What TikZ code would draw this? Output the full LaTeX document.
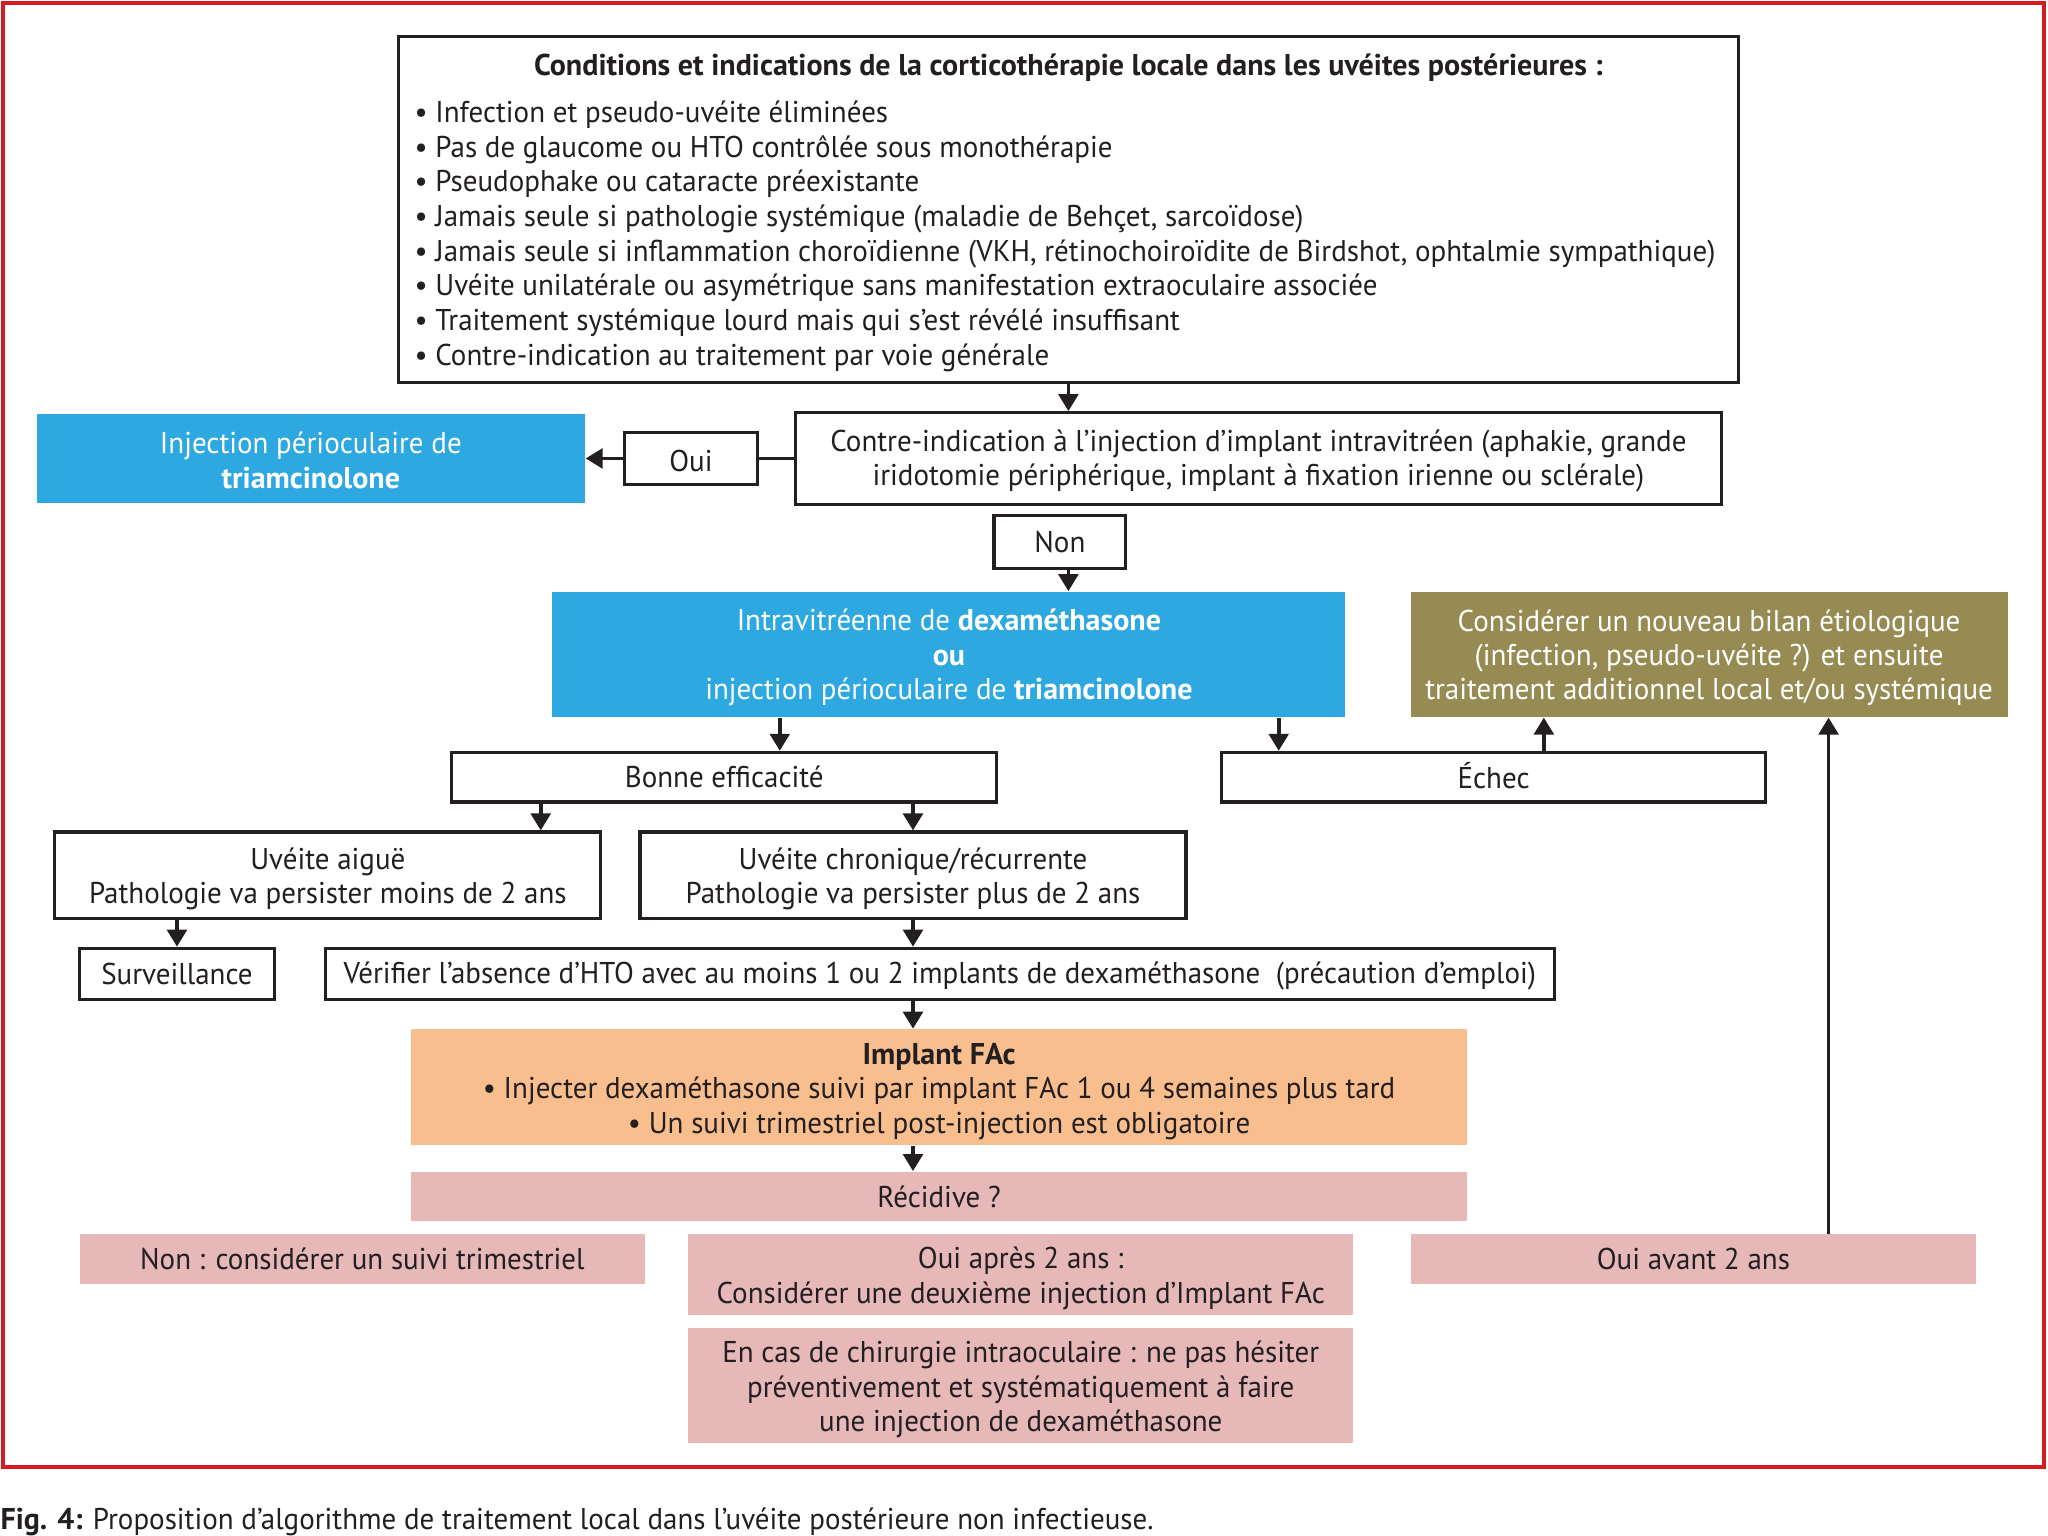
\documentclass[tikz,border=0pt]{standalone}
\usepackage{fontspec}
\setmainfont{PT Sans}[FakeStretch=0.965, BoldFeatures={FakeStretch=1.0}]
\usetikzlibrary{arrows.meta}
\definecolor{txt}{HTML}{231F20}
\definecolor{cblue}{HTML}{2DA8E0}
\definecolor{colive}{HTML}{968B52}
\definecolor{corange}{HTML}{F9BE8E}
\definecolor{cpink}{HTML}{E6B8B8}
\definecolor{cred}{HTML}{D71A21}
% name, x1, y1, x2, y2, box style, label options, label text
\newcommand\mybox[8]{%
  \node[#6, minimum width={(#4-#2)*0.5pt}, minimum height={(#5-#3)*0.5pt}] (#1) at ({(#2+#4)/2},{(#3+#5)/2}) {};
  \node[lbl, #7] (#1-t) at (#1.center) {#8};}
\begin{document}
\begin{tikzpicture}[x=0.5pt,y=-0.5pt, font=\fontsize{11.5}{13.2}\selectfont, text=txt,
  wbox/.style={draw=txt, line width=1.2pt, fill=white, inner sep=0pt},
  fillbox/.style={fill=#1, draw=none, inner sep=0pt},
  lbl/.style={align=center, inner sep=0pt},
  arr/.style={draw=txt, line width=1.4pt, -{Triangle[length=6.5pt,width=7.5pt]}},
  ln/.style={draw=txt, line width=1.4pt},
  plain/.style={inner sep=0pt}]
\useasboundingbox (0,0) rectangle (1568,1176);
\draw[cred, line width=1.5pt] (2,2) rectangle (1565,1123);

\mybox{cond}{305}{28}{1331}{293}{wbox}{}{}
\node[plain, anchor=base, font=\fontsize{11.5}{13.2}\selectfont\bfseries] (title) at (818,58) {Conditions et indications de la corticothérapie locale dans les uvéites postérieures :};
\foreach \t [count=\i] in {
  {Infection et pseudo-uvéite éliminées},
  {Pas de glaucome ou HTO contrôlée sous monothérapie},
  {Pseudophake ou cataracte préexistante},
  {Jamais seule si pathologie systémique (maladie de Behçet, sarcoïdose)},
  {Jamais seule si inflammation choroïdienne (VKH, rétinochoiroïdite de Birdshot, ophtalmie sympathique)},
  {Uvéite unilatérale ou asymétrique sans manifestation extraoculaire associée},
  {Traitement systémique lourd mais qui s’est révélé insuffisant},
  {Contre-indication au traitement par voie générale}}
  \node[plain, anchor=base west] (b\i) at (317,{94+26.5*(\i-1)}) {•\ \t};

\mybox{ci}{609}{316}{1318}{386}{wbox}{yshift=-1pt}{Contre-indication à l’injection d’implant intravitréen (aphakie, grande\\iridotomie périphérique, implant à fixation irienne ou sclérale)}
\mybox{oui}{478}{331}{580}{371}{wbox}{yshift=-0.8pt}{Oui}
\mybox{peri}{28}{317}{448}{385}{fillbox=cblue}{yshift=-0.8pt, text=white}{Injection périoculaire de\\\textbf{triamcinolone}}
\mybox{non}{761}{395}{862}{435}{wbox}{}{Non}
\mybox{intra}{423}{453}{1030}{549}{fillbox=cblue}{yshift=-1.3pt, text=white}{Intravitréenne de \textbf{dexaméthasone}\\\textbf{ou}\\injection périoculaire de \textbf{triamcinolone}}
\mybox{bilan}{1080}{453}{1537}{549}{fillbox=colive}{yshift=-1.3pt, text=white}{Considérer un nouveau bilan étiologique\\(infection, pseudo-uvéite ?) et ensuite\\traitement additionnel local et/ou systémique}
\mybox{bonne}{346}{576}{763}{614}{wbox}{}{Bonne efficacité}
\mybox{echec}{935}{576}{1352}{614}{wbox}{yshift=0.5pt}{Échec}
\mybox{aigue}{42}{637}{460}{703}{wbox}{yshift=-1.5pt}{Uvéite aiguë\\Pathologie va persister moins de 2 ans}
\mybox{chron}{490}{637}{908}{703}{wbox}{yshift=-1.5pt}{Uvéite chronique/récurrente\\Pathologie va persister plus de 2 ans}
\mybox{surv}{61}{726}{210}{765}{wbox}{}{Surveillance}
\mybox{verif}{249}{726}{1190}{765}{wbox}{yshift=-1pt}{Vérifier l’absence d’HTO avec au moins 1 ou 2 implants de dexaméthasone\ \ (précaution d’emploi)}
\mybox{fac}{315}{788}{1123}{877}{fillbox=corange}{yshift=-1.5pt}{\textbf{Implant FAc}\\• Injecter dexaméthasone suivi par implant FAc 1 ou 4 semaines plus tard\\• Un suivi trimestriel post-injection est obligatoire}
\mybox{recid}{315}{897}{1123}{935}{fillbox=cpink}{}{Récidive ?}
\mybox{nontri}{61}{945}{494}{983}{fillbox=cpink}{}{Non : considérer un suivi trimestriel}
\mybox{apres}{527}{945}{1036}{1007}{fillbox=cpink}{yshift=-1.3pt}{Oui après 2 ans :\\Considérer une deuxième injection d’Implant FAc}
\mybox{avant}{1080}{945}{1513}{983}{fillbox=cpink}{}{Oui avant 2 ans}
\mybox{chir}{527}{1017}{1036}{1105}{fillbox=cpink}{yshift=-1.5pt}{En cas de chirurgie intraoculaire : ne pas hésiter\\préventivement et systématiquement à faire\\une injection de dexaméthasone}

\draw[arr] (cond.south) -- (cond.south |- ci.north);
\draw[ln] (ci.west) -- (oui.east);
\draw[arr] (oui.west) -- (peri.east);
\draw[arr] (non.south -| cond.south) -- (intra.north -| cond.south);
\draw[arr] (intra.south -| 597,0) -- (bonne.north -| 597,0);
\draw[arr] (intra.south -| 979,0) -- (echec.north -| 979,0);
\draw[arr] (echec.north -| 1182,0) -- (bilan.south -| 1182,0);
\draw[arr] (avant.north -| 1400,0) -- (bilan.south -| 1400,0);
\draw[arr] (bonne.south -| 414,0) -- (aigue.north -| 414,0);
\draw[arr] (bonne.south -| chron.north) -- (chron.north);
\draw[arr] (aigue.south -| surv.north) -- (surv.north);
\draw[arr] (chron.south) -- (verif.north -| chron.south);
\draw[arr] (verif.south -| chron.south) -- (fac.north -| chron.south);
\draw[arr] (fac.south -| chron.south) -- (recid.north -| chron.south);

\node[plain, anchor=base west] (caption) at (0,1171) {\textbf{Fig. 4:} Proposition d’algorithme de traitement local dans l’uvéite postérieure non infectieuse.};
\end{tikzpicture}
\end{document}
